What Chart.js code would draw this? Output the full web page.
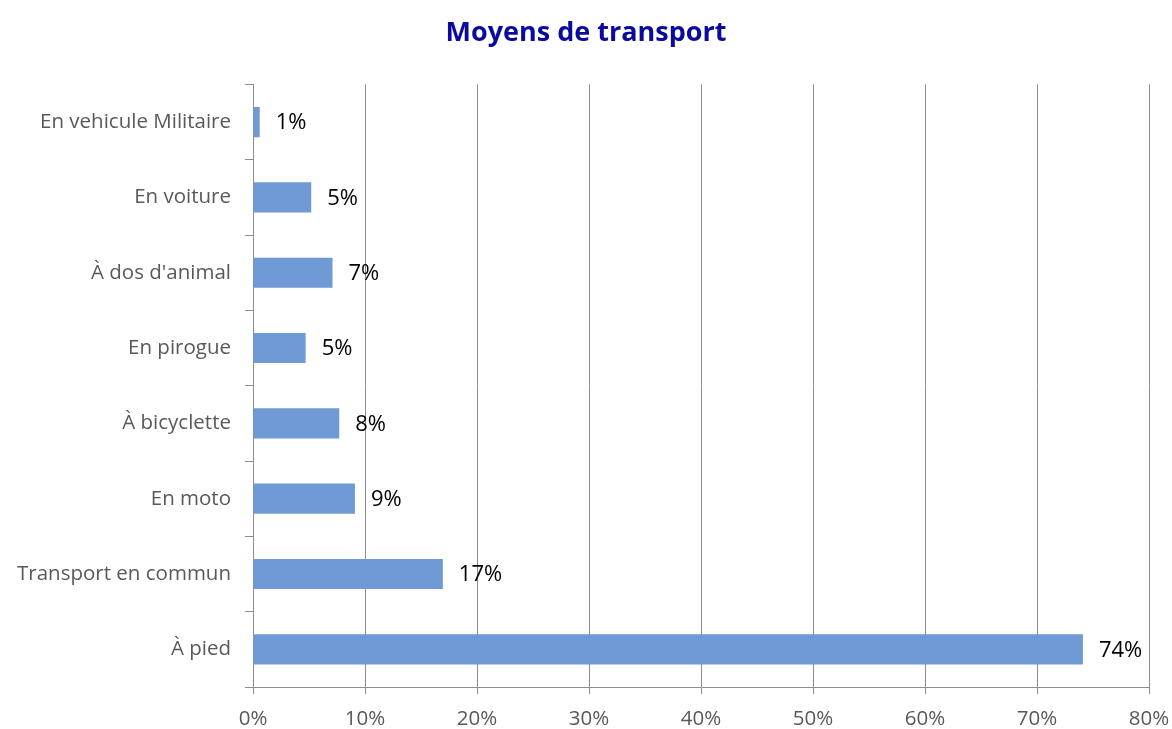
<!DOCTYPE html>
<html>
<head>
<meta charset="utf-8">
<script src="https://cdn.jsdelivr.net/npm/chart.js@4"></script>
<style>
  html, body { margin: 0; padding: 0; background: #fff; }
  #wrap { width: 1172px; height: 729px; }
</style>
</head>
<body>
<div id="wrap"><canvas id="transportChart" width="1172" height="729"></canvas></div>
<script>
const categories = [
  'En vehicule Militaire',
  'En voiture',
  "À dos d'animal",
  'En pirogue',
  'À bicyclette',
  'En moto',
  'Transport en commun',
  'À pied'
];
const shares = [0.6, 5.2, 7.1, 4.7, 7.7, 9.1, 16.95, 74.1];
const shareLabels = ['1%', '5%', '7%', '5%', '8%', '9%', '17%', '74%'];
const xTicks = [0, 10, 20, 30, 40, 50, 60, 70, 80];

const gridGray = '#8c8c8c';
const fontFamily = '"Open Sans", "Liberation Sans", sans-serif';

// labels at the end of each bar
const barLabels = {
  id: 'barLabels',
  afterDatasetsDraw(chart) {
    const ctx = chart.ctx;
    const meta = chart.getDatasetMeta(0);
    ctx.save();
    ctx.font = '22px ' + fontFamily;
    ctx.fillStyle = '#000';
    ctx.textAlign = 'left';
    ctx.textBaseline = 'middle';
    meta.data.forEach((bar, i) => {
      ctx.fillText(shareLabels[i], bar.x + 16, bar.y + 1);
    });
    ctx.restore();
  }
};

const ctx = document.getElementById('transportChart').getContext('2d');
new Chart(ctx, {
  type: 'bar',
  data: {
    labels: categories,
    datasets: [{
      data: shares,
      backgroundColor: '#6f9ad5',
      barPercentage: 0.4,
      categoryPercentage: 1
    }]
  },
  options: {
    indexAxis: 'y',
    responsive: false,
    animation: false,
    layout: { padding: 0 },
    scales: {
      x: {
        min: 0,
        max: 80,
        afterBuildTicks: scale => { scale.ticks = xTicks.map(v => ({ value: v })); },
        afterFit: scale => {
          scale.height = 42;
          scale.paddingRight = 23;
        },
        grid: {
          color: gridGray,
          lineWidth: 1,
          tickLength: 7,
          drawTicks: true
        },
        border: { color: gridGray },
        ticks: {
          padding: 13,
          color: '#595959',
          font: { family: fontFamily, size: 20.5 },
          callback: v => v + '%'
        }
      },
      y: {
        afterFit: scale => { scale.width = 253; },
        grid: {
          drawOnChartArea: false,
          offset: true,
          tickLength: 8,
          color: gridGray
        },
        border: { color: gridGray },
        ticks: {
          padding: 14,
          color: '#595959',
          font: { family: fontFamily, size: 20.5 }
        }
      }
    },
    plugins: {
      legend: { display: false },
      tooltip: { enabled: false },
      title: {
        display: true,
        text: 'Moyens de transport',
        color: '#0a0aa0',
        font: { family: fontFamily, size: 27, weight: 'bold' },
        padding: { top: 17, bottom: 35 }
      }
    }
  },
  plugins: [barLabels]
});
</script>
</body>
</html>
